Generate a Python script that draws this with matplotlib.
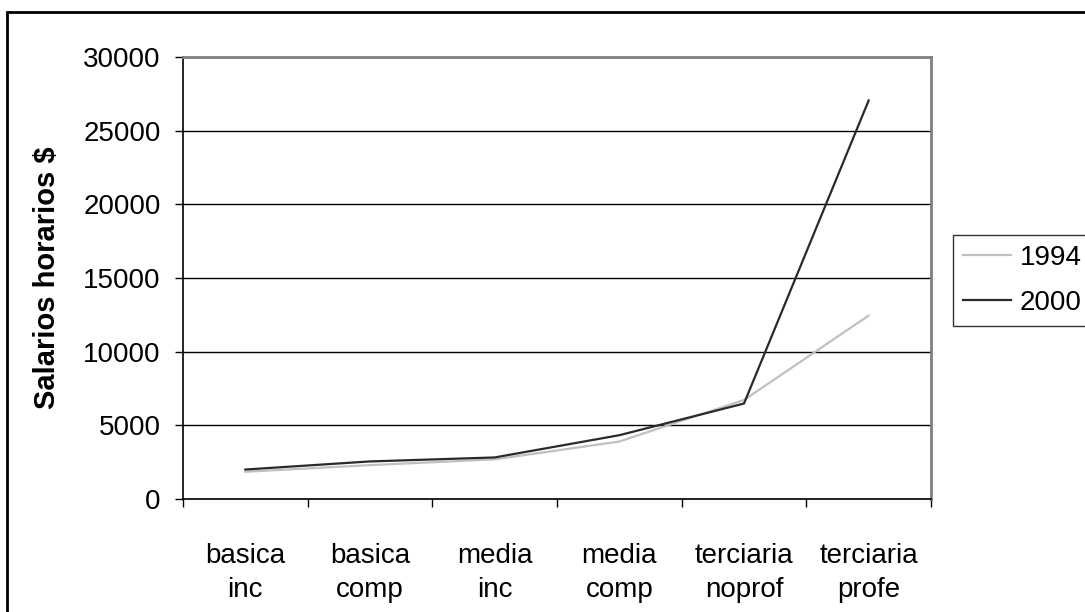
import matplotlib
matplotlib.use("Agg")
import matplotlib.pyplot as plt
from matplotlib.patches import Rectangle
from matplotlib.ticker import FixedLocator

categories = ["basica\ninc", "basica\ncomp", "media\ninc", "media\ncomp",
              "terciaria\nnoprof", "terciaria\nprofe"]
years = ["1994", "2000"]
salarios_1994 = [1850, 2300, 2690, 3900, 6720, 12450]
salarios_2000 = [2000, 2550, 2820, 4330, 6480, 27050]
y_ticks = [0, 5000, 10000, 15000, 20000, 25000, 30000]

plt.rcParams["font.family"] = ["Liberation Sans", "DejaVu Sans"]

W, H = 1085, 612
fig = plt.figure(figsize=(W / 100, H / 100), dpi=100)

# outer chart frame (runs off the right and bottom edges)
fig.patches.append(Rectangle((7 / W, -0.05), 1.1, 1 - 12 / H + 0.05,
                             transform=fig.transFigure, fill=False,
                             edgecolor="black", linewidth=2.0, clip_on=False))

left, right, top, bottom = 183, 931, 57, 499
ax = fig.add_axes([left / W, 1 - bottom / H, (right - left) / W, (bottom - top) / H])

x = list(range(len(categories)))
ax.plot(x, salarios_1994, color="#c0c0c0", linewidth=1.6, label=years[0])
ax.plot(x, salarios_2000, color="#2a2a2a", linewidth=1.6, label=years[1])

ax.set_xlim(-0.5, len(categories) - 0.5)
ax.set_ylim(0, 30000)
ax.set_yticks(y_ticks)
ax.set_yticklabels([str(v) for v in y_ticks])
ax.yaxis.grid(True, color="black", linewidth=1.0)
ax.set_axisbelow(True)

ax.set_xticks(x)
ax.set_xticklabels(categories, linespacing=1.4)
ax.xaxis.set_minor_locator(FixedLocator([i - 0.5 for i in range(len(categories) + 1)]))
ax.tick_params(axis="x", which="major", length=0, pad=32, labelsize=20)
ax.tick_params(axis="x", which="minor", length=6, width=1.0, color="black", direction="out")
ax.tick_params(axis="y", length=6, width=1.0, pad=10, labelsize=20)

for side in ("top", "right"):
    ax.spines[side].set_color("#808080")
    ax.spines[side].set_linewidth(2.0)
for side in ("left", "bottom"):
    ax.spines[side].set_color("black")
    ax.spines[side].set_linewidth(1.2)

ax.set_ylabel("Salarios horarios $", fontsize=21, fontweight="bold", labelpad=16)

leg = fig.legend(loc="upper left", bbox_to_anchor=(953 / W, 1 - 235 / H),
                 frameon=True, fancybox=False, fontsize=20, handlelength=1.75,
                 handletextpad=0.3, borderpad=0.35, labelspacing=0.7,
                 borderaxespad=0)
leg.get_frame().set_edgecolor("black")
leg.get_frame().set_linewidth(1.0)

fig.savefig("out.png", dpi=100)
